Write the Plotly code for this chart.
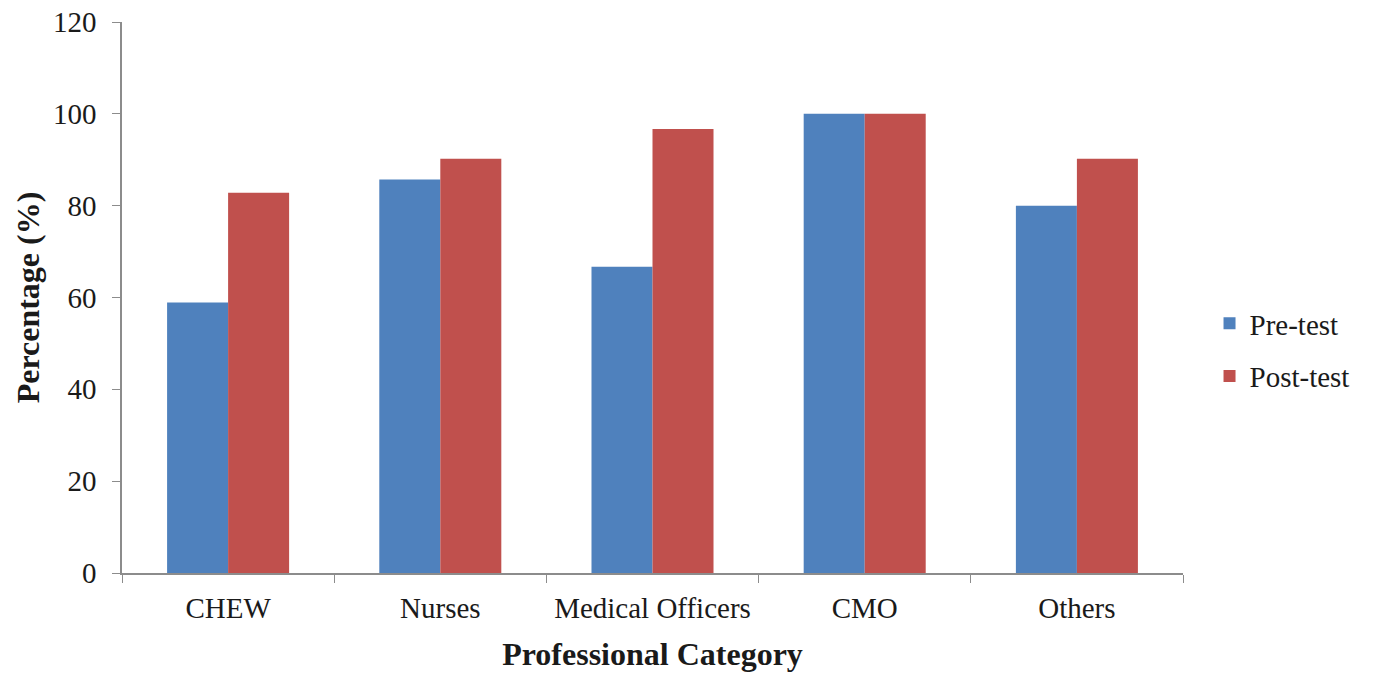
import plotly.graph_objects as go

categories = ["CHEW", "Nurses", "Medical Officers", "CMO", "Others"]
pre_test = [58.9, 85.7, 66.7, 100, 80.0]
post_test = [82.8, 90.2, 96.7, 100, 90.2]
y_ticks = [0, 20, 40, 60, 80, 100, 120]

font_family = "Liberation Serif, Times New Roman, serif"
axis_color = "#8c8c8c"

fig = go.Figure()
fig.add_trace(go.Bar(name="Pre-test", x=categories, y=pre_test, legendgroup="pre",
                     marker=dict(color="#4f81bd", line=dict(width=0))))
fig.add_trace(go.Bar(name="Post-test", x=categories, y=post_test, legendgroup="post",
                     marker=dict(color="#c0504d", line=dict(width=0))))

fig.update_layout(
    width=1373, height=675,
    margin=dict(l=122, r=190, t=22, b=102),
    paper_bgcolor="white", plot_bgcolor="white",
    barmode="group", bargap=0.425, bargroupgap=0,
    font=dict(family=font_family, size=29, color="#1a1a1a"),
    legend=dict(x=1.025, y=0.405, xanchor="left", yanchor="middle",
                font=dict(size=29), itemwidth=30, tracegroupgap=12,
                traceorder="grouped"),
    xaxis=dict(
        title=dict(text="<b>Professional Category</b>", font=dict(size=32), standoff=20),
        showline=True, linecolor=axis_color, linewidth=1.5,
        ticks="outside", tickson="boundaries", ticklen=8, tickcolor=axis_color,
        tickfont=dict(size=29), ticklabelstandoff=8,
        showgrid=False, automargin=False,
    ),
    yaxis=dict(
        title=dict(text="<b>Percentage (%)</b>", font=dict(size=32), standoff=4),
        range=[0, 120], tickvals=y_ticks,
        showline=True, linecolor=axis_color, linewidth=1.5,
        ticks="outside", ticklen=8, tickcolor=axis_color,
        tickfont=dict(size=29), ticklabelstandoff=10,
        showgrid=False, zeroline=False, automargin=False,
    ),
)

fig.write_html("out.html")
